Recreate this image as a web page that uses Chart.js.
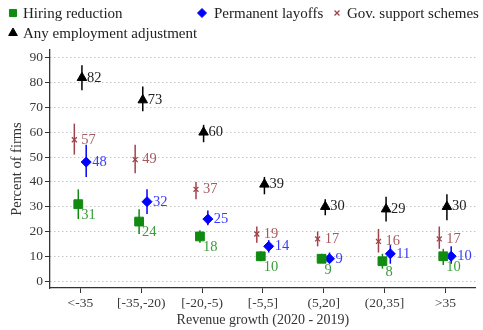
<!DOCTYPE html>
<html><head><meta charset="utf-8">
<script src="https://cdn.jsdelivr.net/npm/chart.js@4/dist/chart.umd.min.js"></script>
<style>html,body{margin:0;padding:0;background:#fff}#wrap{width:483px;height:330px;position:relative}</style>
</head><body><div id="wrap"><canvas id="c" width="483" height="330"></canvas></div>
<script>
// ---- data ----
const categories = ['<-35', '[-35,-20)', '[-20,-5)', '[-5,5]', '(5,20]', '(20,35]', '>35'];
const yTicks = [0, 10, 20, 30, 40, 50, 60, 70, 80, 90];

const hiring   = [31, 24, 18, 10, 9, 8, 10];
const hiringLo = [25, 19, 15.5, 8, 7.5, 5, 6.5];
const hiringHi = [37, 29, 20.5, 12, 11, 11, 13];

const layoffs   = [48, 32, 25, 14, 9, 11, 10];
const layoffsLo = [42, 27, 22.5, 11.5, 7.5, 7, 7];
const layoffsHi = [55, 37, 28.5, 16.5, 11.5, 14.5, 14];

const gov   = [57, 49, 37, 19, 17, 16, 17];
const govLo = [51, 43.5, 33, 15.5, 14, 11.5, 13];
const govHi = [63.5, 55, 40, 22, 20, 21, 22];

const anyAdj   = [82, 73, 60, 39, 30, 29, 30];
const anyAdjLo = [77, 68.5, 56, 35, 26.5, 24, 24.5];
const anyAdjHi = [87, 78.5, 63, 42, 33, 34, 35];

const seriesNames = ['Hiring reduction', 'Permanent layoffs', 'Gov. support schemes', 'Any employment adjustment'];

// ---- styles ----
const FONT = '"Liberation Serif", "Times New Roman", serif';
const styles = [
  {color: '#118a11', label: '#3a9c3a', pointStyle: 'rect',     radius: 6.2, bw: 1,   offset: -0.035, dx: 3,  dy: 11, lr: 5},
  {color: '#0000ff', label: '#3a3aff', pointStyle: 'rectRot',  radius: 5,   bw: 1,   offset: 0.095,  dx: 6,  dy: 0,  lr: 4.5},
  {color: '#a0424a', label: '#a65a5e', pointStyle: 'crossRot', radius: 3.5, bw: 1.3, offset: -0.10,  dx: 7,  dy: 0,  lr: 3.5},
  {color: '#000000', label: '#222222', pointStyle: 'triangle', radius: 5.5, bw: 1,   offset: 0.025,  dx: 5,  dy: 0,  lr: 5}
];
const seriesVals = [hiring, layoffs, gov, anyAdj];
const seriesLo = [hiringLo, layoffsLo, govLo, anyAdjLo];
const seriesHi = [hiringHi, layoffsHi, govHi, anyAdjHi];

const datasets = seriesVals.map((vals, s) => ({
  label: seriesNames[s],
  data: vals.map((v, i) => ({x: i + styles[s].offset, y: v})),
  showLine: false,
  pointStyle: styles[s].pointStyle,
  pointRadius: styles[s].radius,
  pointBackgroundColor: styles[s].color,
  pointBorderColor: styles[s].color,
  pointBorderWidth: styles[s].bw,
  order: 0
}));

const errorBars = {
  id: 'errorBars',
  beforeDatasetsDraw(chart) {
    const ctx = chart.ctx, ys = chart.scales.y;
    ctx.save();
    chart.data.datasets.forEach((ds, s) => {
      const meta = chart.getDatasetMeta(s);
      ctx.strokeStyle = styles[s].color;
      ctx.lineWidth = 1.5;
      meta.data.forEach((el, i) => {
        ctx.beginPath();
        ctx.moveTo(el.x, ys.getPixelForValue(seriesLo[s][i]));
        ctx.lineTo(el.x, ys.getPixelForValue(seriesHi[s][i]));
        ctx.stroke();
      });
    });
    ctx.restore();
  },
  afterDatasetsDraw(chart) {
    const ctx = chart.ctx;
    ctx.save();
    ctx.font = '14.5px ' + FONT;
    ctx.textAlign = 'left';
    ctx.textBaseline = 'middle';
    chart.data.datasets.forEach((ds, s) => {
      const meta = chart.getDatasetMeta(s);
      ctx.fillStyle = styles[s].label;
      meta.data.forEach((el, i) => {
        ctx.fillText(String(seriesVals[s][i]), el.x + styles[s].dx, el.y + styles[s].dy);
      });
    });
    ctx.restore();
  }
};

const legendPos = [
  {x: 13, y: 13, tx: 23},
  {x: 202, y: 13, tx: 214},
  {x: 337, y: 13, tx: 347},
  {x: 13, y: 33, tx: 23}
];
const customLegend = {
  id: 'customLegend',
  afterDraw(chart) {
    const ctx = chart.ctx;
    ctx.save();
    ctx.font = '15px ' + FONT;
    ctx.textBaseline = 'middle';
    ctx.textAlign = 'left';
    seriesNames.forEach((name, s) => {
      const p = legendPos[s];
      ctx.fillStyle = styles[s].color;
      ctx.strokeStyle = styles[s].color;
      ctx.lineWidth = styles[s].bw;
      Chart.helpers.drawPoint(ctx, {pointStyle: styles[s].pointStyle, radius: styles[s].lr, rotation: 0, borderWidth: styles[s].bw}, p.x, p.y);
      ctx.fillStyle = '#222';
      ctx.fillText(name, p.tx, p.y + 1);
    });
    ctx.restore();
  }
};

new Chart(document.getElementById('c'), {
  type: 'scatter',
  data: {datasets},
  plugins: [errorBars, customLegend],
  options: {
    responsive: false,
    devicePixelRatio: 1,
    animation: false,
    layout: {padding: {top: 50, left: 0, right: 0, bottom: 0}},
    plugins: {legend: {display: false}, tooltip: {enabled: false}},
    scales: {
      x: {
        type: 'linear', min: -0.5, max: 6.5,
        afterBuildTicks: (sc) => { sc.ticks = categories.map((_, i) => ({value: i})); },
        afterFit: (sc) => { sc.height = 42; },
        ticks: {autoSkip: false, maxRotation: 0, padding: 2, color: '#3a3a3a', font: {family: FONT, size: 13.5},
                callback: (v) => categories[v]},
        grid: {drawOnChartArea: false, drawTicks: true, tickLength: 5, tickColor: '#333', tickWidth: 1},
        border: {display: true, color: '#333', width: 1.3},
        title: {display: true, text: 'Revenue growth (2020 - 2019)', color: '#333', font: {family: FONT, size: 14}, padding: {top: 0, bottom: 1}}
      },
      y: {
        min: -2.8, max: 93.2,
        afterBuildTicks: (sc) => { sc.ticks = yTicks.map(v => ({value: v})); },
        afterFit: (sc) => { sc.width = 50; },
        ticks: {padding: 2, color: '#3a3a3a', font: {family: FONT, size: 13.5}},
        grid: {color: '#a8a8a8', lineWidth: 1, drawTicks: true, tickLength: 5, tickColor: '#333', tickWidth: 1, tickBorderDash: [], tickBorderDashOffset: 0},
        border: {display: true, color: '#333', width: 1.3, dash: [1, 3]},
        title: {display: true, text: 'Percent of firms', color: '#333', font: {family: FONT, size: 14.5}, padding: {top: 8, bottom: 0}}
      }
    }
  }
});
</script>
</body></html>
